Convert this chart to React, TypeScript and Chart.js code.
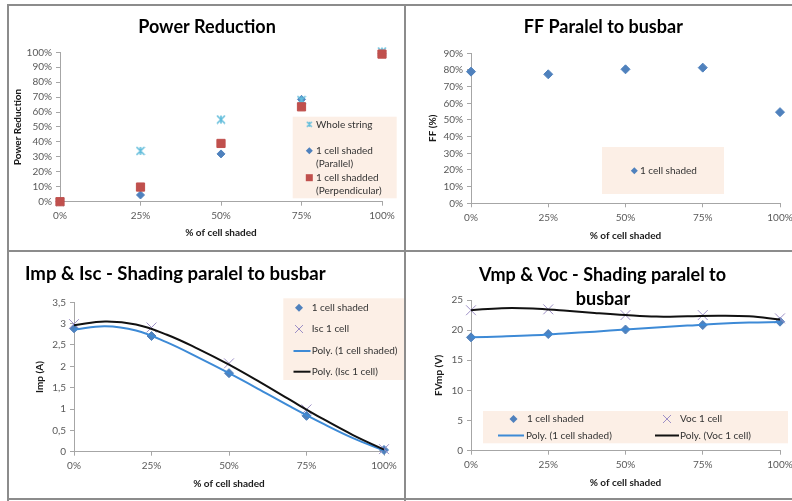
import { useEffect, useRef } from 'react';
import { Chart, registerables } from 'chart.js';

Chart.register(...registerables);

const FONT = 'Lato, "Open Sans", "DejaVu Sans", sans-serif';
const BLUE = '#4f81bd';
const RED = '#c0504d';
const CYAN = '#62bddb';
const PURPLE = '#9d8fc6';
const TREND_BLUE = '#3d8ad6';
const TREND_BLACK = '#111111';
const LEGEND_BG = '#fcefe6';
const AXIS = '#a6a6a6';
const TICK = '#595959';
const BORDER = '#8c8c8c';
const AX_TS = 10;

// ---------- data ----------
const shadedPct = [0, 25, 50, 75, 100];
const xTickLabels = ['0%', '25%', '50%', '75%', '100%'];

const powerWholeString = [0, 34, 55, 68, 100.5];
const powerParallel = [0, 4.5, 32, 68.5, 99];
const powerPerpendicular = [0, 9.8, 39, 63.5, 98.8];

const ffParallel = [79, 77.4, 80.4, 81.4, 54.7];

const impShaded = [2.89, 2.71, 1.84, 0.84, 0.04];
const iscOneCell = [2.99, 2.91, 2.07, 0.99, 0.06];

const trendPct = [0, 10, 20, 30, 40, 50, 60, 70, 80, 90, 100];
const impPoly = [2.86, 2.94, 2.84, 2.56, 2.21, 1.84, 1.45, 1.05, 0.67, 0.32, 0.03];
const iscPoly = [2.96, 3.05, 2.98, 2.74, 2.41, 2.04, 1.63, 1.2, 0.78, 0.39, 0.05];

const vmpShaded = [18.8, 19.35, 20.1, 20.85, 21.4];
const vocOneCell = [23.3, 23.45, 22.5, 22.5, 21.95];
const vmpPoly = [18.8, 18.95, 19.15, 19.45, 19.75, 20.1, 20.45, 20.75, 21.05, 21.25, 21.35];
const vocPoly = [23.3, 23.65, 23.6, 23.25, 22.85, 22.5, 22.25, 22.3, 22.4, 22.3, 21.75];

// ---------- helpers ----------
const pts = (xs: number[], ys: number[]) => xs.map((x, i) => ({ x, y: ys[i] }));

type Rect = { l: number; t: number; w: number; h: number };
type Area = { l: number; r: number; t: number; b: number };
type Shape = 'diamond' | 'square' | 'star' | 'x' | 'line';
type LegendEntry = { shape: Shape; color: string; mx: number; my: number; size: number; tx: number; lines: string[] };
type TitleLine = { text: string; x: number; y: number; align: CanvasTextAlign; size?: number };

interface Panel {
  canvas: Rect;
  area: Area;
  yTitleX: number;
  xTitleY: number;
  yTitle: string;
  xTitle: string;
  yMin: number;
  yMax: number;
  yStep: number;
  yFmt: (v: number) => string;
  titles: TitleLine[];
  legendBox: Area;
  legend: LegendEntry[];
  datasets: () => any[];
}

function makeStar(color: string, size: number, lw: number) {
  const c = document.createElement('canvas');
  c.width = size;
  c.height = size;
  const g = c.getContext('2d')!;
  g.strokeStyle = color;
  g.lineWidth = lw;
  const m = 1;
  const s = size - 1;
  g.beginPath();
  g.moveTo(m, m);
  g.lineTo(s, s);
  g.moveTo(s, m);
  g.lineTo(m, s);
  g.moveTo(size / 2, m);
  g.lineTo(size / 2, s);
  g.stroke();
  return c;
}

function drawShape(g: CanvasRenderingContext2D, e: LegendEntry, ox: number, oy: number) {
  const x = e.mx - ox;
  const y = e.my - oy;
  const r = e.size;
  g.save();
  g.fillStyle = e.color;
  g.strokeStyle = e.color;
  if (e.shape === 'diamond') {
    g.beginPath();
    g.moveTo(x, y - r);
    g.lineTo(x + r, y);
    g.lineTo(x, y + r);
    g.lineTo(x - r, y);
    g.closePath();
    g.fill();
  } else if (e.shape === 'square') {
    g.fillRect(x - r, y - r, 2 * r, 2 * r);
  } else if (e.shape === 'x') {
    g.lineWidth = 1;
    g.beginPath();
    g.moveTo(x - r, y - r);
    g.lineTo(x + r, y + r);
    g.moveTo(x + r, y - r);
    g.lineTo(x - r, y + r);
    g.stroke();
  } else if (e.shape === 'star') {
    const img = makeStar(e.color, Math.round(r * 2), 1.3);
    g.drawImage(img, x - img.width / 2, y - img.height / 2);
  } else if (e.shape === 'line') {
    g.lineWidth = 2;
    g.beginPath();
    g.moveTo(x - r, y);
    g.lineTo(x + r, y);
    g.stroke();
  }
  g.restore();
}

const pctFmt = (v: number) => {
  const i = shadedPct.indexOf(v);
  return i >= 0 ? xTickLabels[i] : v + '%';
};

function buildChart(canvas: HTMLCanvasElement, p: Panel) {
  const LH = AX_TS * 1.2;
  const c = p.canvas;
  const yAxisLeft = p.yTitleX - LH / 2;
  const yW = p.area.l - yAxisLeft;
  const padLeft = yAxisLeft - c.l;
  const xAxisBottom = p.xTitleY + LH / 2;
  const xH = xAxisBottom - p.area.b;
  const padBottom = c.t + c.h - xAxisBottom;
  const padTop = p.area.t - c.t;
  const padRight = c.l + c.w - p.area.r;

  const decor = {
    id: 'decor',
    afterDraw(chart: any) {
      const g: CanvasRenderingContext2D = chart.ctx;
      const ox = c.l;
      const oy = c.t;
      g.save();
      const b = p.legendBox;
      g.fillStyle = LEGEND_BG;
      g.fillRect(b.l - ox, b.t - oy, b.r - b.l, b.b - b.t);
      g.font = `10px ${FONT}`;
      g.textBaseline = 'middle';
      g.textAlign = 'left';
      for (const e of p.legend) {
        drawShape(g, e, ox, oy);
        g.fillStyle = '#333333';
        e.lines.forEach((ln, i) => g.fillText(ln, e.tx - ox, e.my - oy + i * 13.3));
      }
      g.fillStyle = '#000000';
      g.textBaseline = 'alphabetic';
      for (const t of p.titles) {
        g.font = `bold ${t.size ?? 18}px ${FONT}`;
        g.textAlign = t.align;
        g.fillText(t.text, t.x - ox, t.y - oy);
      }
      g.restore();
    },
  };

  const tickFont = { family: FONT, size: 10 };
  const titleFont = { family: FONT, size: AX_TS, weight: 'bold' as const };

  return new Chart(canvas, {
    type: 'scatter',
    data: { datasets: p.datasets() },
    options: {
      responsive: false,
      animation: false,
      events: [],
      layout: { padding: { left: padLeft, right: padRight, top: padTop, bottom: padBottom } },
      plugins: { legend: { display: false }, tooltip: { enabled: false }, title: { display: false } },
      scales: {
        x: {
          type: 'linear',
          min: 0,
          max: 100,
          ticks: { stepSize: 25, callback: (v: any) => pctFmt(Number(v)), font: tickFont, color: TICK, padding: 4, maxRotation: 0, autoSkip: false },
          grid: { display: true, drawOnChartArea: false, drawTicks: true, tickLength: 4, color: AXIS },
          border: { display: true, color: AXIS },
          title: { display: true, text: p.xTitle, font: titleFont, color: '#1a1a1a', padding: 0 },
          afterFit: (s: any) => {
            s.height = xH;
          },
        },
        y: {
          type: 'linear',
          min: p.yMin,
          max: p.yMax,
          ticks: { stepSize: p.yStep, callback: (v: any) => p.yFmt(Number(v)), font: tickFont, color: TICK, padding: 4, autoSkip: false },
          grid: { display: true, drawOnChartArea: false, drawTicks: true, tickLength: 4, color: AXIS },
          border: { display: true, color: AXIS },
          title: { display: true, text: p.yTitle, font: titleFont, color: '#1a1a1a', padding: 0 },
          afterFit: (s: any) => {
            s.width = yW;
          },
        },
      },
    },
    plugins: [decor],
  } as any);
}

const diamond = (data: any[], r: number) => ({
  data,
  pointStyle: 'rectRot',
  pointRadius: r,
  backgroundColor: BLUE,
  borderColor: BLUE,
  borderWidth: 1,
  showLine: false,
  clip: false,
});
const xMark = (data: any[]) => ({
  data,
  pointStyle: 'crossRot',
  pointRadius: 7,
  backgroundColor: PURPLE,
  borderColor: PURPLE,
  borderWidth: 1,
  showLine: false,
  clip: false,
});
const trend = (data: any[], color: string) => ({
  data,
  showLine: true,
  pointRadius: 0,
  borderColor: color,
  backgroundColor: color,
  borderWidth: 2,
  tension: 0.4,
  clip: false,
});

const panels: Panel[] = [
  {
    canvas: { l: 9, t: 6, w: 395, h: 244 },
    area: { l: 60, r: 382, t: 52.3, b: 201.7 },
    yTitleX: 18,
    xTitleY: 232.3,
    yTitle: 'Power Reduction',
    xTitle: '% of cell shaded',
    yMin: 0,
    yMax: 100,
    yStep: 10,
    yFmt: (v) => v + '%',
    titles: [{ text: 'Power Reduction', x: 207, y: 33.3, align: 'center' }],
    legendBox: { l: 292.7, t: 116.7, r: 396.7, b: 198.3 },
    legend: [
      { shape: 'star', color: CYAN, mx: 309.3, my: 124.3, size: 3.5, tx: 316, lines: ['Whole string'] },
      { shape: 'diamond', color: BLUE, mx: 309.3, my: 150.7, size: 3.5, tx: 316, lines: ['1 cell shaded', '(Parallel)'] },
      { shape: 'square', color: RED, mx: 309.3, my: 177.7, size: 3.5, tx: 316, lines: ['1 cell shadded', '(Perpendicular)'] },
    ],
    datasets: () => [
      {
        data: pts(shadedPct, powerPerpendicular),
        pointStyle: 'rect',
        pointRadius: 5.8,
        backgroundColor: RED,
        borderColor: RED,
        borderWidth: 1,
        showLine: false,
        clip: false,
      },
      {
        data: pts(shadedPct, powerWholeString),
        pointStyle: makeStar(CYAN, 10, 1.6),
        pointRadius: 5,
        showLine: false,
        clip: false,
      },
      diamond(pts(shadedPct, powerParallel), 4),
    ],
  },
  {
    canvas: { l: 406, t: 6, w: 400, h: 244 },
    area: { l: 471, r: 780, t: 53.3, b: 203.3 },
    yTitleX: 432.3,
    xTitleY: 236,
    yTitle: 'FF (%)',
    xTitle: '% of cell shaded',
    yMin: 0,
    yMax: 90,
    yStep: 10,
    yFmt: (v) => v + '%',
    titles: [{ text: 'FF Paralel to busbar', x: 603.3, y: 33.3, align: 'center' }],
    legendBox: { l: 602, t: 147, r: 724, b: 194 },
    legend: [{ shape: 'diamond', color: BLUE, mx: 634.3, my: 170.7, size: 3.5, tx: 640, lines: ['1 cell shaded'] }],
    datasets: () => [diamond(pts(shadedPct, ffParallel), 4.5)],
  },
  {
    canvas: { l: 9, t: 252, w: 395, h: 246 },
    area: { l: 74, r: 384, t: 302.3, b: 451.7 },
    yTitleX: 40,
    xTitleY: 483.3,
    yTitle: 'Imp (A)',
    xTitle: '% of cell shaded',
    yMin: 0,
    yMax: 3.5,
    yStep: 0.5,
    yFmt: (v) => String(Math.round(v * 10) / 10).replace('.', ','),
    titles: [{ text: 'Imp & Isc - Shading paralel to busbar', x: 25, y: 280, align: 'left', size: 18.6 }],
    legendBox: { l: 283.3, t: 298.3, r: 404, b: 380 },
    legend: [
      { shape: 'diamond', color: BLUE, mx: 299, my: 307.7, size: 4, tx: 311.7, lines: ['1 cell shaded'] },
      { shape: 'x', color: PURPLE, mx: 299, my: 329, size: 4, tx: 311.7, lines: ['Isc 1 cell'] },
      { shape: 'line', color: TREND_BLUE, mx: 302, my: 351, size: 8.5, tx: 311.7, lines: ['Poly. (1 cell shaded)'] },
      { shape: 'line', color: TREND_BLACK, mx: 302, my: 371.7, size: 8.5, tx: 311.7, lines: ['Poly. (Isc 1 cell)'] },
    ],
    datasets: () => [
      trend(pts(trendPct, iscPoly), TREND_BLACK),
      trend(pts(trendPct, impPoly), TREND_BLUE),
      xMark(pts(shadedPct, iscOneCell)),
      diamond(pts(shadedPct, impShaded), 4.5),
    ],
  },
  {
    canvas: { l: 406, t: 252, w: 400, h: 246 },
    area: { l: 471, r: 780, t: 300, b: 450.7 },
    yTitleX: 439,
    xTitleY: 482.3,
    yTitle: 'FVmp (V)',
    xTitle: '% of cell shaded',
    yMin: 0,
    yMax: 25,
    yStep: 5,
    yFmt: (v) => String(v),
    titles: [
      { text: 'Vmp & Voc - Shading paralel to', x: 602.5, y: 280.7, align: 'center' },
      { text: 'busbar', x: 603, y: 305, align: 'center' },
    ],
    legendBox: { l: 483, t: 411, r: 788, b: 443.3 },
    legend: [
      { shape: 'diamond', color: BLUE, mx: 513.5, my: 419, size: 4, tx: 527, lines: ['1 cell shaded'] },
      { shape: 'x', color: PURPLE, mx: 667, my: 419, size: 4, tx: 680, lines: ['Voc 1 cell'] },
      { shape: 'line', color: TREND_BLUE, mx: 511, my: 435.5, size: 13, tx: 526, lines: ['Poly. (1 cell shaded)'] },
      { shape: 'line', color: TREND_BLACK, mx: 667, my: 435.5, size: 12, tx: 680, lines: ['Poly. (Voc 1 cell)'] },
    ],
    datasets: () => [
      trend(pts(trendPct, vocPoly), TREND_BLACK),
      trend(pts(trendPct, vmpPoly), TREND_BLUE),
      xMark(pts(shadedPct, vocOneCell)),
      diamond(pts(shadedPct, vmpShaded), 4.5),
    ],
  },
];

export default function App() {
  const refs = useRef<(HTMLCanvasElement | null)[]>([]);

  useEffect(() => {
    const charts = panels.map((p, i) => buildChart(refs.current[i]!, p));
    return () => charts.forEach((ch) => ch.destroy());
  }, []);

  const line = (l: number, t: number, w: number, h: number) => (
    <div style={{ position: 'absolute', left: l, top: t, width: w, height: h, background: BORDER, zIndex: 2 }} />
  );

  return (
    <div style={{ position: 'fixed', left: 0, top: 0, width: 792, height: 501, overflow: 'hidden', background: '#ffffff' }}>
      {panels.map((p, i) => (
        <canvas
          key={i}
          ref={(el) => {
            refs.current[i] = el;
          }}
          width={p.canvas.w}
          height={p.canvas.h}
          style={{ position: 'absolute', left: p.canvas.l, top: p.canvas.t, width: p.canvas.w, height: p.canvas.h }}
        />
      ))}
      {line(8, 4, 784, 2)}
      {line(7, 4, 2, 497)}
      {line(404, 4, 2, 497)}
      {line(8, 250, 784, 2)}
      {line(8, 498, 784, 2)}
    </div>
  );
}
